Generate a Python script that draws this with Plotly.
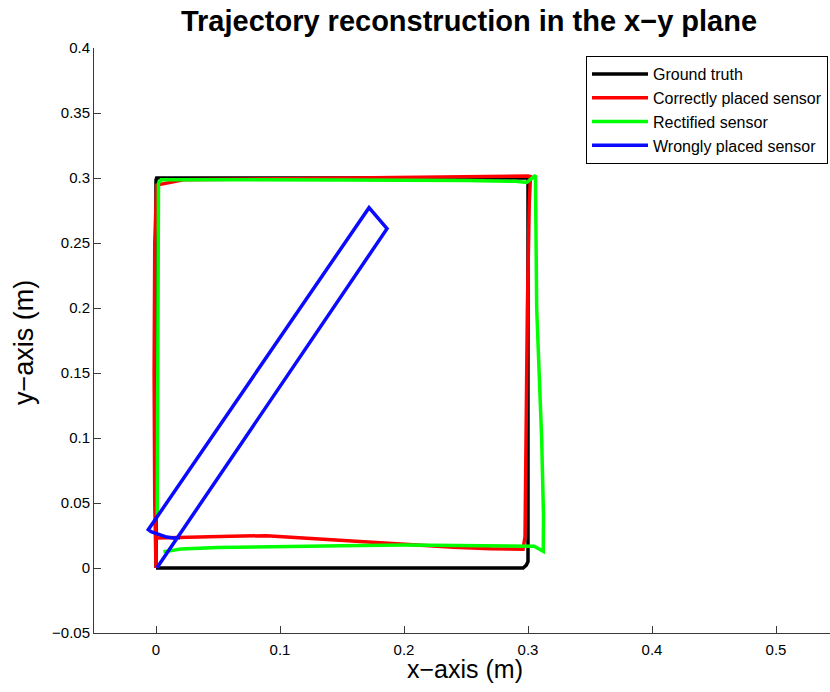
import plotly.graph_objects as go

# Ground truth
gt_x = [0.0, 0.296, 0.2985, 0.3, 0.3, 0.0005, 0.0, 0.0]
gt_y = [0.0, 0.0, 0.002, 0.005, 0.3, 0.3, 0.2985, 0.0]

# Correctly placed sensor
red_x = [0.0, -0.001, -0.0015, -0.001, 0.0005, 0.022, 0.1, 0.2, 0.3, 0.302, 0.301, 0.2995,
         0.2985, 0.298, 0.2976, 0.296, 0.27, 0.24, 0.21, 0.181, 0.15, 0.12, 0.089, 0.06,
         0.03, 0.019, 0.0005]
red_y = [0.0, 0.05, 0.15, 0.25, 0.2945, 0.2987, 0.2995, 0.3008, 0.3015, 0.301, 0.28, 0.2,
         0.1, 0.05, 0.024, 0.0145, 0.0148, 0.016, 0.0178, 0.0192, 0.0215, 0.0235, 0.0248,
         0.0245, 0.0235, 0.023, 0.023]

# Rectified sensor
green_x = [0.001, 0.0015, 0.002, 0.004, 0.05, 0.15, 0.25, 0.29, 0.299, 0.306, 0.307, 0.309,
           0.311, 0.3125, 0.3123, 0.305, 0.28, 0.25, 0.2, 0.15, 0.1, 0.05, 0.02, 0.012,
           0.0086, 0.006]
green_y = [0.04, 0.15, 0.296, 0.2987, 0.2987, 0.2985, 0.298, 0.2975, 0.2966, 0.302, 0.2,
           0.15, 0.1, 0.04, 0.0128, 0.0168, 0.0171, 0.0172, 0.0176, 0.0172, 0.0166, 0.0158,
           0.0146, 0.0138, 0.0128, 0.0125]

# Wrongly placed sensor
blue_x = [0.0008, 0.1863, 0.1718, -0.0048, -0.0062, -0.004, 0.002, 0.0086, 0.014, 0.0194]
blue_y = [0.0002, 0.261, 0.2772, 0.031, 0.0295, 0.028, 0.026, 0.0238, 0.023, 0.0233]

x_ticks = [0, 0.1, 0.2, 0.3, 0.4, 0.5]
y_ticks = [-0.05, 0, 0.05, 0.1, 0.15, 0.2, 0.25, 0.3, 0.35, 0.4]

FONT = "Liberation Sans, Arial, Helvetica, sans-serif"
AX = "#3a3a3a"

W, H = 830, 692
L, T = 94, 48
B = H - 633
PW = W - L
PH = H - T - B

fig = go.Figure()
series = [
    ("Ground truth", gt_x, gt_y, "#000000"),
    ("Correctly placed sensor", red_x, red_y, "#ff0000"),
    ("Rectified sensor", green_x, green_y, "#00ff00"),
    ("Wrongly placed sensor", blue_x, blue_y, "#0a0aff"),
]
for name, xs, ys, col in series:
    fig.add_trace(go.Scatter(x=xs, y=ys, mode="lines", name=name,
                             line=dict(color=col, width=3.5)))

def px_x(p):
    return (p - L) / PW

def px_y(p):
    return (H - B - p) / PH

fig.update_layout(
    width=W, height=H,
    margin=dict(l=L, r=0, t=T, b=B, autoexpand=False),
    paper_bgcolor="white", plot_bgcolor="white",
    font=dict(family=FONT, size=15, color="black"),
    title=dict(text="<b>Trajectory reconstruction in the x\u2212y plane</b>",
               font=dict(size=29, family=FONT, color="black"),
               x=469 / W, xref="container", xanchor="center",
               y=1 - 21 / H, yref="container", yanchor="middle"),
    showlegend=True,
    legend=dict(x=px_x(828), y=px_y(56), xanchor="right", yanchor="top",
                bgcolor="white", bordercolor="black", borderwidth=1,
                font=dict(size=16, family=FONT), itemwidth=56,
                tracegroupgap=0),
    xaxis=dict(range=[-0.05, -0.05 + PW / 1240], tickvals=x_ticks, ticks="inside", ticklen=7,
               tickcolor=AX, showline=True, linecolor=AX, linewidth=1,
               showgrid=False, zeroline=False, mirror=False, ticklabelstandoff=3,
               tickfont=dict(size=15, family=FONT)),
    yaxis=dict(range=[-0.05, 0.4], tickvals=y_ticks, ticks="inside", ticklen=7,
               tickcolor=AX, showline=True, linecolor=AX, linewidth=1,
               showgrid=False, zeroline=False, mirror=False,
               tickfont=dict(size=15, family=FONT)),
    annotations=[
        dict(text="x\u2212axis (m)", xref="paper", yref="paper",
             x=px_x(465), y=px_y(669), xanchor="center", yanchor="middle",
             showarrow=False, font=dict(size=25, family=FONT, color="black")),
        dict(text="y\u2212axis (m)", xref="paper", yref="paper", textangle=-90,
             x=px_x(24), y=px_y(343), xanchor="center", yanchor="middle",
             showarrow=False, font=dict(size=27, family=FONT, color="black")),
    ],
)

fig.write_html("out.html",
               config={"displayModeBar": False},
               post_script="document.body.style.margin='0px';"
                           "document.body.style.overflow='hidden';")
